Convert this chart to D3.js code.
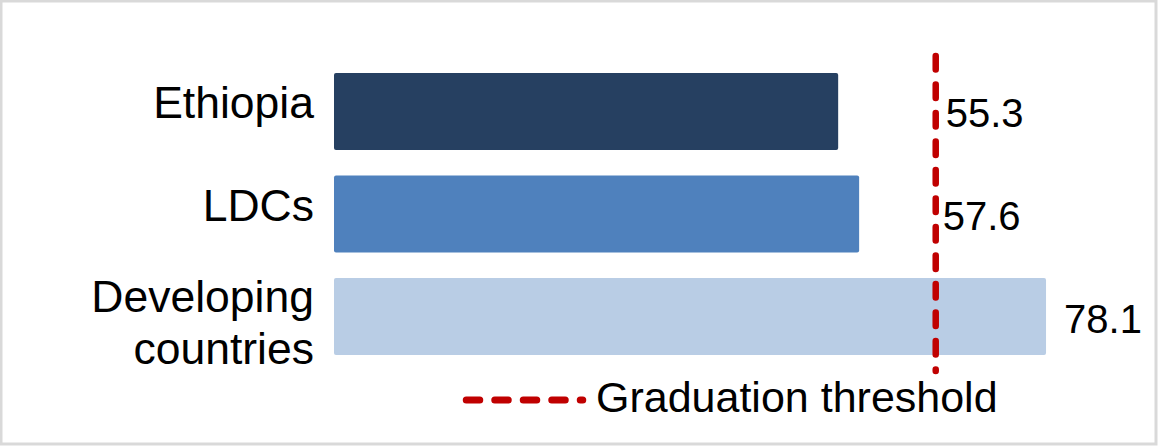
<!DOCTYPE html>
<html>
<head>
<meta charset="utf-8">
<script src="https://cdn.jsdelivr.net/npm/d3@7"></script>
<style>
  body { margin: 0; background: #fff; }
  svg text { font-family: "Liberation Sans", Arial, sans-serif; fill: #000; }
</style>
</head>
<body>
<div id="chart"></div>
<script>
var categories = ["Ethiopia", "LDCs", "Developing countries"];
var values = [55.3, 57.6, 78.1];
var barColors = ["#264061", "#4f81bd", "#b9cde5"];
var threshold = 66;
var legendLabel = "Graduation threshold";

var width = 1158, height = 446;

var svg = d3.select("#chart").append("svg")
            .attr("width", width)
            .attr("height", height);

// outer frame
svg.append("rect")
   .attr("x", 1).attr("y", 1)
   .attr("width", width - 3).attr("height", height - 3)
   .attr("fill", "#fff")
   .attr("stroke", "#d9d9d9")
   .attr("stroke-width", 3);

var x = d3.scaleLinear().domain([0, 100]).range([334, 334 + 911.7]);
var y = d3.scaleBand().domain(categories).range([52.5, 375.5]).paddingInner(0.249).paddingOuter(0.2);

// bars
svg.selectAll("rect.bar")
   .data(values)
   .enter().append("rect")
   .attr("class", "bar")
   .attr("x", x(0))
   .attr("y", function(d, i) { return y(categories[i]); })
   .attr("width", function(d) { return x(d) - x(0); })
   .attr("height", y.bandwidth())
   .attr("rx", 2)
   .attr("fill", function(d, i) { return barColors[i]; });

// category labels
var labels = svg.selectAll("text.cat")
   .data(categories)
   .enter().append("text")
   .attr("class", "cat")
   .attr("text-anchor", "end")
   .attr("font-size", 44.5)
   .attr("y", function(d) { return y(d) + y.bandwidth() / 2; });

labels.each(function(d) {
  var t = d3.select(this);
  var words = d == "Developing countries" ? ["Developing", "countries"] : [d];
  words.forEach(function(w, k) {
    t.append("tspan")
     .attr("x", 314)
     .attr("dy", words.length == 1 ? 7 : (k == 0 ? -5 : 52))
     .text(w);
  });
});

// threshold line
svg.append("line")
   .attr("x1", x(threshold)).attr("x2", x(threshold))
   .attr("y1", 56).attr("y2", 371)
   .attr("stroke", "#c00000")
   .attr("stroke-width", 6.5)
   .attr("stroke-linecap", "round")
   .attr("stroke-dasharray", "13.5,15");

// value labels
svg.selectAll("text.val")
   .data(values)
   .enter().append("text")
   .attr("class", "val")
   .attr("font-size", 40)
   .attr("x", function(d, i) {
     if (d < threshold) return x(threshold) + (i == 0 ? 10 : 7);
     return x(d) + 18;
   })
   .attr("y", function(d, i) { return y(categories[i]) + y.bandwidth() / 2 + 16; })
   .text(function(d) { return d3.format(".1f")(d); });

// legend
svg.append("line")
   .attr("x1", 466.25).attr("x2", 582.75)
   .attr("y1", 400).attr("y2", 400)
   .attr("stroke", "#c00000")
   .attr("stroke-width", 7)
   .attr("stroke-linecap", "round")
   .attr("stroke-dasharray", "13.5,15");

svg.append("text")
   .attr("x", 596)
   .attr("y", 412)
   .attr("font-size", 43)
   .text(legendLabel);
</script>
</body>
</html>
